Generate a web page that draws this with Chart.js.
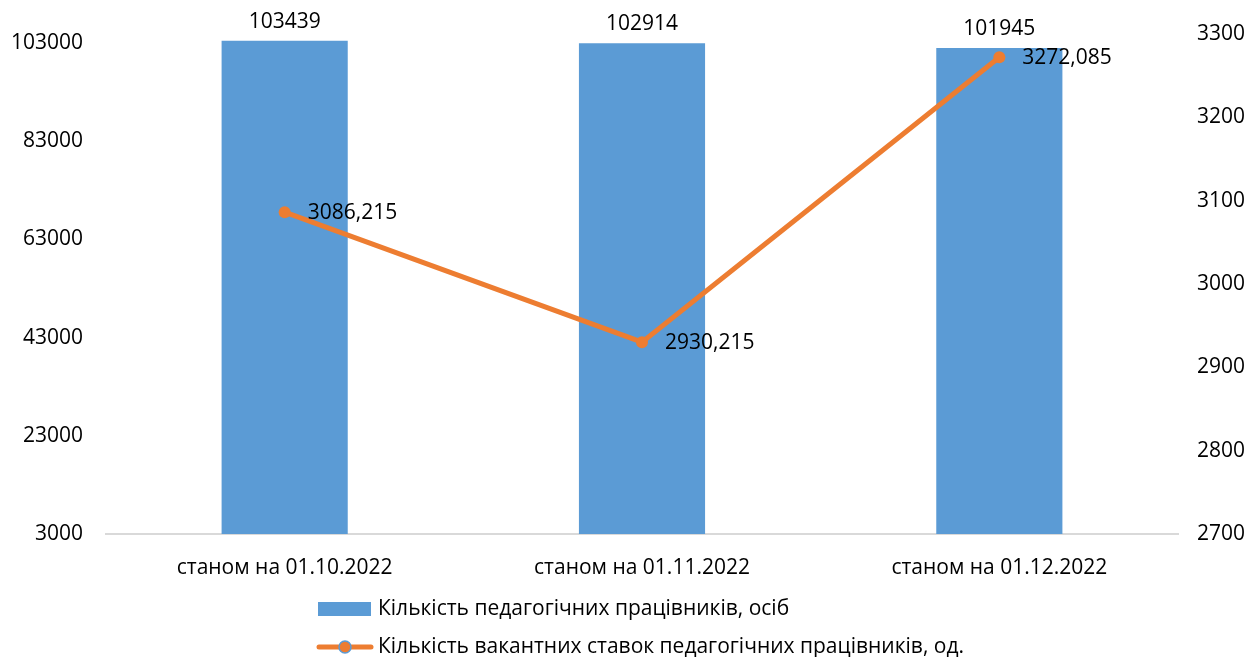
<!DOCTYPE html>
<html>
<head>
<meta charset="utf-8">
<script src="https://cdn.jsdelivr.net/npm/chart.js@4/dist/chart.umd.min.js"></script>
<style>
  html, body { margin: 0; padding: 0; background: #fff; }
  #wrap { width: 1251px; height: 657px; }
</style>
</head>
<body>
<div id="wrap"><canvas id="staffChart" width="1251" height="657"></canvas></div>
<script>
// DATA
const categories = ['станом на 01.10.2022', 'станом на 01.11.2022', 'станом на 01.12.2022'];
const staffCounts = [103439, 102914, 101945];
const vacancyCounts = [3086.215, 2930.215, 3272.085];
const leftTicks = [3000, 23000, 43000, 63000, 83000, 103000];
const rightTicks = [2700, 2800, 2900, 3000, 3100, 3200, 3300];
const staffLabel = 'Кількість педагогічних працівників, осіб';
const vacancyLabel = 'Кількість вакантних ставок педагогічних працівників, од.';

const FONT = 'Open Sans';
const FONT_SIZE = 21;
const BLUE = '#5B9BD5';
const ORANGE = '#ED7D31';

function fmtVacancy(v) {
    return v.toFixed(3).replace('.', ',');
}

// value labels (bars: above, line: to the right)
const valueLabels = {
    id: 'valueLabels',
    afterDatasetsDraw(chart) {
        const ctx = chart.ctx;
        ctx.save();
        ctx.font = FONT_SIZE + 'px "' + FONT + '"';
        ctx.fillStyle = '#000';
        chart.getDatasetMeta(0).data.forEach(function(bar, i) {
            ctx.textAlign = 'center';
            ctx.textBaseline = 'middle';
            ctx.fillText(String(staffCounts[i]), bar.x, bar.y - 19);
        });
        chart.getDatasetMeta(1).data.forEach(function(pt, i) {
            ctx.textAlign = 'left';
            ctx.textBaseline = 'middle';
            ctx.fillText(fmtVacancy(vacancyCounts[i]), pt.x + 23, pt.y + 1);
        });
        ctx.restore();
    }
};

// two-row legend under the chart
const stackedLegend = {
    id: 'stackedLegend',
    afterDraw(chart) {
        const ctx = chart.ctx;
        const textX = 378;
        ctx.save();
        ctx.font = FONT_SIZE + 'px "' + FONT + '"';
        ctx.textAlign = 'left';
        ctx.textBaseline = 'middle';

        // row 1: bar swatch
        ctx.fillStyle = BLUE;
        ctx.fillRect(318, 602, 53, 14);
        ctx.fillStyle = '#000';
        ctx.fillText(chart.data.datasets[0].label, textX, 609);

        // row 2: line with marker
        ctx.strokeStyle = ORANGE;
        ctx.lineWidth = 5;
        ctx.lineCap = 'round';
        ctx.beginPath();
        ctx.moveTo(319, 647);
        ctx.lineTo(371, 647);
        ctx.stroke();
        ctx.beginPath();
        ctx.arc(345, 647, 6, 0, Math.PI * 2);
        ctx.fillStyle = ORANGE;
        ctx.fill();
        ctx.lineWidth = 1.5;
        ctx.strokeStyle = BLUE;
        ctx.stroke();
        ctx.fillStyle = '#000';
        ctx.fillText(chart.data.datasets[1].label, textX, 647);
        ctx.restore();
    }
};

const chartStaffData = {
    labels: categories,
    datasets: [{
        type: 'bar',
        label: staffLabel,
        data: staffCounts,
        yAxisID: 'y',
        backgroundColor: BLUE,
        borderWidth: 0,
        categoryPercentage: 1,
        barPercentage: 0.353,
        order: 1
    }, {
        type: 'line',
        label: vacancyLabel,
        data: vacancyCounts,
        yAxisID: 'y1',
        borderColor: ORANGE,
        backgroundColor: ORANGE,
        borderWidth: 5,
        pointRadius: 6,
        pointBackgroundColor: ORANGE,
        pointBorderColor: ORANGE,
        pointBorderWidth: 0,
        tension: 0,
        order: 0
    }]
};

const chartStaffOptions = {
    responsive: false,
    animation: false,
    layout: {
        padding: { left: 0, right: 0, top: 34, bottom: 63 }
    },
    scales: {
        x: {
            grid: { display: false },
            border: { display: true, color: '#D9D9D9', width: 2 },
            ticks: {
                color: '#000',
                padding: 13,
                maxRotation: 0,
                font: { family: FONT, size: FONT_SIZE }
            },
            afterFit: function(s) { s.height = 60; }
        },
        y: {
            position: 'left',
            min: 3000,
            max: 104800,
            grid: { display: false },
            border: { display: false },
            afterBuildTicks: function(s) {
                s.ticks = leftTicks.map(function(v) { return { value: v }; });
            },
            ticks: {
                color: '#000',
                padding: 15,
                font: { family: FONT, size: FONT_SIZE },
                callback: function(value) { return String(value); }
            },
            afterFit: function(s) { s.width = 106; }
        },
        y1: {
            position: 'right',
            min: 2700,
            max: 3300,
            grid: { display: false },
            border: { display: false },
            afterBuildTicks: function(s) {
                s.ticks = rightTicks.map(function(v) { return { value: v }; });
            },
            ticks: {
                color: '#000',
                padding: 11,
                font: { family: FONT, size: FONT_SIZE },
                callback: function(value) { return String(value); }
            },
            afterFit: function(s) { s.width = 73; }
        }
    },
    plugins: {
        tooltip: { enabled: false },
        legend: { display: false }
    }
};

const ctxStaff = document.getElementById('staffChart').getContext('2d');
const staffChart = new Chart(ctxStaff, {
    data: chartStaffData,
    options: chartStaffOptions,
    plugins: [valueLabels, stackedLegend]
});
</script>
</body>
</html>
